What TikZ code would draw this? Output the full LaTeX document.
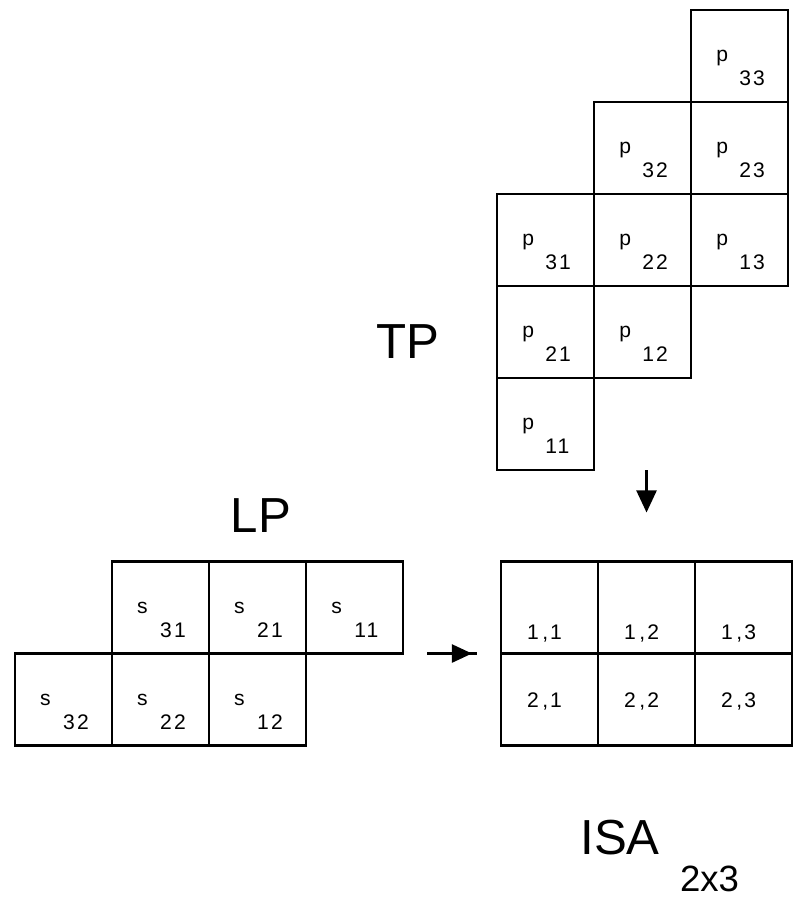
\documentclass[tikz,border=0pt]{standalone}
\usepackage{fontspec}
\setmainfont{Liberation Sans}
\newfontfamily\entryfont[LetterSpace=10]{Liberation Sans}
\usetikzlibrary{positioning, arrows.meta, decorations.markings}

% letter and index written into a cell, index down and to the right
\newcommand\ent[3]{%
  \node[entry, anchor=base west] at ([shift={(25,52)}]#1.north west) {#2};
  \node[entry, anchor=base west] at ([shift={(48,76)}]#1.north west) {#3};}

\begin{document}
\begin{tikzpicture}[x=0.025cm, y=-0.025cm, node distance = 0pt]
\tikzstyle{cell} = [draw, line width = 1.6pt, minimum width = 2.425cm, minimum height = 2.3cm, inner sep = 0pt, outer sep = 0pt]
\tikzstyle{entry} = [inner sep = 0pt, font = \entryfont\fontsize{15}{18}\selectfont]
\tikzstyle{title} = [inner sep = 0pt, font = \fontsize{35}{40}\selectfont]
\tikzstyle{flow} = [line width = 1.6pt]
\tikzstyle{head} = [-{Triangle[length = 5.5mm, width = 5mm]}]
\useasboundingbox (0,0) rectangle (797,901);
  % TP
  \node[cell] (p11) at (545.5,424) {};
  \node[cell, above=of p11] (p21) {};
  \node[cell, above=of p21] (p31) {};
  \node[cell, right=of p21] (p12) {};
  \node[cell, right=of p31] (p22) {};
  \node[cell, above=of p22] (p32) {};
  \node[cell, right=of p22] (p13) {};
  \node[cell, above=of p13] (p23) {};
  \node[cell, above=of p23] (p33) {};
  \ent{p11}{p}{11} \ent{p21}{p}{21} \ent{p31}{p}{31}
  \ent{p12}{p}{12} \ent{p22}{p}{22} \ent{p32}{p}{32}
  \ent{p13}{p}{13} \ent{p23}{p}{23} \ent{p33}{p}{33}
  \node[title, anchor=base] (tp) at (408,358) {TP};
  % LP
  \node[cell] (s11) at (354.5,607.5) {};
  \node[cell, left=of s11] (s21) {};
  \node[cell, left=of s21] (s31) {};
  \node[cell, below=of s21] (s12) {};
  \node[cell, left=of s12] (s22) {};
  \node[cell, left=of s22] (s32) {};
  \ent{s11}{s}{11} \ent{s21}{s}{21} \ent{s31}{s}{31}
  \ent{s12}{s}{12} \ent{s22}{s}{22} \ent{s32}{s}{32}
  \node[title, anchor=base] (lp) at (261,532) {LP};
  % ISA
  \node[cell] (c11) at (549.5,607.5) {};
  \node[cell, right=of c11] (c12) {};
  \node[cell, right=of c12] (c13) {};
  \node[cell, below=of c11] (c21) {};
  \node[cell, right=of c21] (c22) {};
  \node[cell, right=of c22] (c23) {};
  \node[entry, anchor=base] at ([shift={(-5,32)}]c11.center) {1\,,1};
  \node[entry, anchor=base] at ([shift={(-5,32)}]c12.center) {1\,,2};
  \node[entry, anchor=base] at ([shift={(-5,32)}]c13.center) {1\,,3};
  \node[entry, anchor=base] at ([shift={(-5,8)}]c21.center) {2\,,1};
  \node[entry, anchor=base] at ([shift={(-5,8)}]c22.center) {2\,,2};
  \node[entry, anchor=base] at ([shift={(-5,8)}]c23.center) {2\,,3};
  \node[title, anchor=base] (isa) at (620,854) {ISA};
  \node[inner sep = 0pt, anchor=base, font = \fontsize{26}{30}\selectfont] (dim) at (709.5,891) {2x3};
  % arrows into ISA
  \draw[flow, head] (p11.south east -| c12.north) -- ([shift={(0,-49)}]c12.north);
  \draw[flow, postaction={decorate}, decoration={markings, mark=at position 0.9 with {\arrow{Triangle[length = 5mm, width = 4.5mm]}}}]
    ([shift={(24,0)}]s11.south east) -- ([shift={(-24,0)}]c11.south west);
\end{tikzpicture}
\end{document}
